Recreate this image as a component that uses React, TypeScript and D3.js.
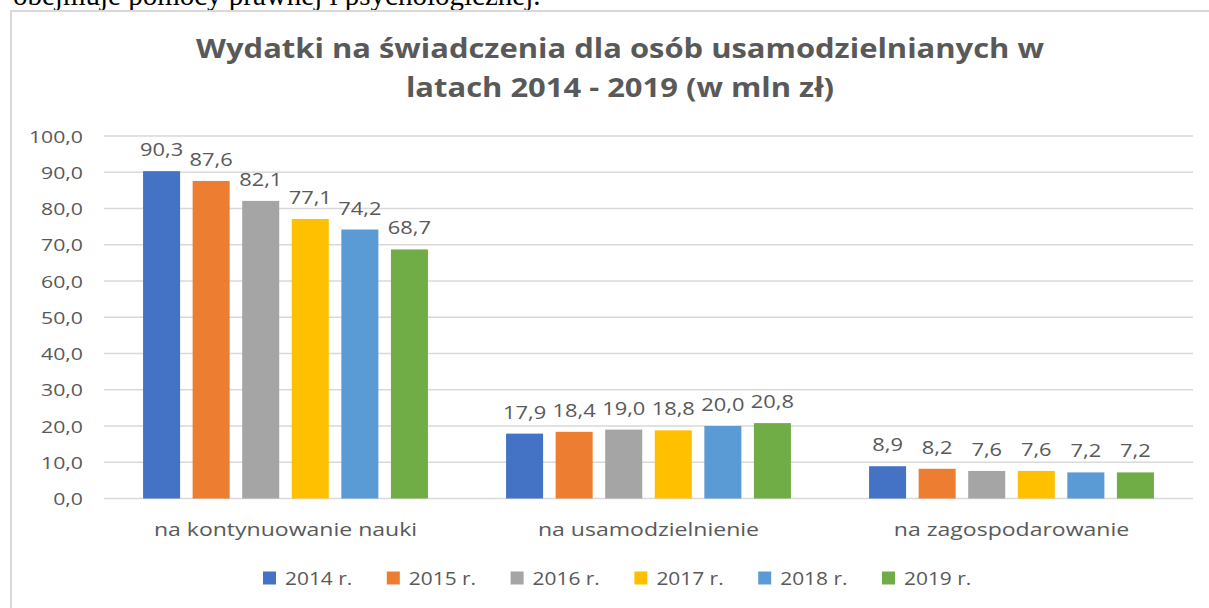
import React from "react";
import * as d3 from "d3";

const categories = ["na kontynuowanie nauki", "na usamodzielnienie", "na zagospodarowanie"];
const years = ["2014 r.", "2015 r.", "2016 r.", "2017 r.", "2018 r.", "2019 r."];
const colors = ["#4472C4", "#ED7D31", "#A5A5A5", "#FFC000", "#5B9BD5", "#70AD47"];
const v2014 = [90.3, 17.9, 8.9];
const v2015 = [87.6, 18.4, 8.2];
const v2016 = [82.1, 19.0, 7.6];
const v2017 = [77.1, 18.8, 7.6];
const v2018 = [74.2, 20.0, 7.2];
const v2019 = [68.7, 20.8, 7.2];
const series = [v2014, v2015, v2016, v2017, v2018, v2019];
const yTicks = [0, 10, 20, 30, 40, 50, 60, 70, 80, 90, 100];
const titleLines = ["Wydatki na świadczenia dla osób usamodzielnianych w", "latach 2014 - 2019 (w mln zł)"];
const topText = "obejmuje pomocy prawnej i psychologicznej.";

const W = 1209;
const H = 608;
const SX = 1.25;
const FONT = "'Open Sans', sans-serif";
const TXT = "#595959";

const fmt = (v: number) => v.toFixed(1).replace(".", ",");

function T(props: { x: number; y: number; anchor?: string; size: number; weight?: number; children: any; sx?: number }) {
  const sx = props.sx ?? SX;
  return (
    <text
      transform={`translate(${props.x},${props.y}) scale(${sx},1)`}
      textAnchor={props.anchor ?? "middle"}
      fontSize={props.size}
      fontWeight={props.weight ?? 400}
      fontFamily={FONT}
      fill={TXT}
    >
      {props.children}
    </text>
  );
}

export default function App() {
  const x0 = d3.scaleBand<string>().domain(categories).range([104, 1193]).paddingInner(0).paddingOuter(0);
  const x1 = d3.scaleBand<string>().domain(years).range([0, x0.bandwidth()]).paddingInner(0.253).paddingOuter(0.788);
  const y = d3.scaleLinear().domain([0, 100]).range([498.5, 136]);

  return (
    <svg width={W} height={H} style={{ position: "absolute", left: 0, top: 0, overflow: "hidden", background: "#fff" }}>
      <rect x={0} y={0} width={W} height={H} fill="#fff" />
      <text x={13} y={5} fontFamily="'Liberation Serif', 'Times New Roman', serif" fontSize={29} fill="#000">
        {topText}
      </text>
      <rect x={11} y={11} width={W + 20} height={H + 20} fill="#fff" stroke="#D9D9D9" strokeWidth={2} />

      {titleLines.map((t, i) => (
        <T key={i} x={620} y={58 + i * 39} size={26} weight={700} sx={1.19}>
          {t}
        </T>
      ))}

      {yTicks.map((t) => (
        <g key={t}>
          <line x1={104} x2={1193} y1={y(t)} y2={y(t)} stroke="#D9D9D9" strokeWidth={1.5} />
          <T x={83} y={y(t) + 6.5} anchor="end" size={17}>
            {fmt(t)}
          </T>
        </g>
      ))}

      {categories.map((c, ci) => (
        <g key={c}>
          {series.map((s, si) => {
            const bx = (x0(c) as number) + (x1(years[si]) as number);
            const by = y(s[ci]);
            return (
              <g key={si}>
                <rect x={bx} y={by} width={x1.bandwidth()} height={y(0) - by} fill={colors[si]} />
                <T x={bx + x1.bandwidth() / 2} y={by - 15} size={17.5}>
                  {fmt(s[ci])}
                </T>
              </g>
            );
          })}
          <T x={(x0(c) as number) + x0.bandwidth() / 2} y={536} size={18} sx={1.28}>
            {c}
          </T>
        </g>
      ))}

      {years.map((yr, i) => {
        const lx = 263 + i * 123.8;
        return (
          <g key={yr}>
            <rect x={lx} y={571.5} width={13} height={13} fill={colors[i]} />
            <T x={lx + 22} y={585} anchor="start" size={19} sx={1.1}>
              {yr}
            </T>
          </g>
        );
      })}
    </svg>
  );
}
